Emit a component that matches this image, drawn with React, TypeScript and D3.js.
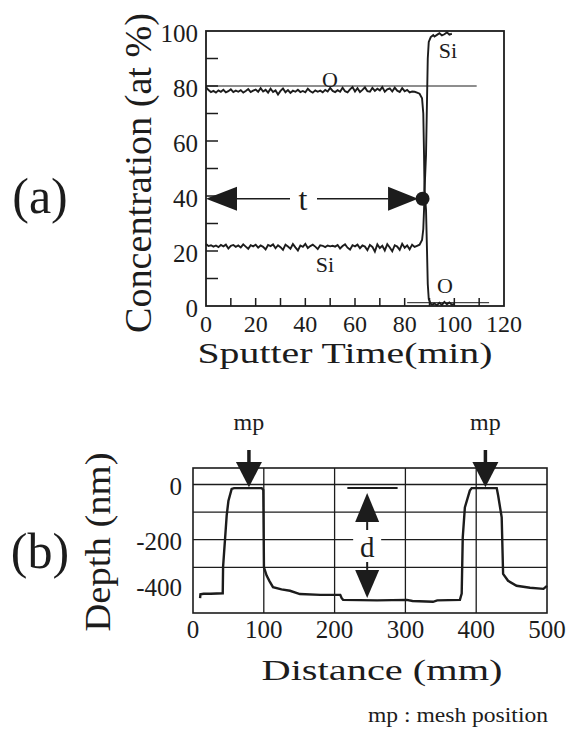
import React, { useEffect, useRef } from 'react'
import * as d3 from 'd3'

// (a) XPS sputter profile, every minute, then the interface
const oxygenTime = [
  0, 1, 2, 3, 4, 5, 6, 7, 8, 9, 10, 11, 12, 13, 14, 15, 16, 17, 18, 19,
  20, 21, 22, 23, 24, 25, 26, 27, 28, 29, 30, 31, 32, 33, 34, 35, 36, 37, 38, 39,
  40, 41, 42, 43, 44, 45, 46, 47, 48, 49, 50, 51, 52, 53, 54, 55, 56, 57, 58, 59,
  60, 61, 62, 63, 64, 65, 66, 67, 68, 69, 70, 71, 72, 73, 74, 75, 76, 77, 78, 79,
  80, 81, 82, 83, 84, 85, 86, 87, 87.5, 87.8, 88, 88.6, 89, 89.3, 89.7, 90.5,
  91, 92, 93, 94, 95, 96, 97, 98, 99, 100
]
const oxygenPct = [
  79.6, 78.5, 77.8, 78.2, 77.6, 78.4, 77.9, 78.6, 77.7, 78.1, 78.8, 77.8, 78.3, 77.9, 78.5, 77.6, 78.2, 78.9, 77.8, 78.3,
  78.7, 77.9, 79.2, 78.0, 78.6, 77.6, 79.0, 77.8, 78.4, 76.9, 78.2, 79.1, 77.7, 78.5, 77.5, 78.3, 77.9, 78.6, 77.8, 78.2,
  77.7, 79.0, 78.1, 77.6, 78.4, 77.9, 78.3, 77.7, 78.6, 78.0, 79.3, 78.2, 77.8, 78.5, 77.9, 79.4, 78.1, 77.7, 78.8, 79.6,
  78.0, 79.2, 77.8, 78.6, 79.5, 78.1, 77.9, 79.3, 78.2, 79.0, 78.4, 79.6, 77.9, 78.8, 79.1, 78.0, 79.4, 78.3, 77.8, 79.2,
  78.1, 78.6, 77.7, 78.0, 77.9, 77.6, 77.2, 75.5, 70, 55, 42, 35, 20, 8, 2.5, 0.8,
  0.5, 0.9, 0.3, 1.2, 0.4, 1.5, 0.6, 1.3, 0.5, 0.8
]
const siliconTime = [
  0, 1, 2, 3, 4, 5, 6, 7, 8, 9, 10, 11, 12, 13, 14, 15, 16, 17, 18, 19,
  20, 21, 22, 23, 24, 25, 26, 27, 28, 29, 30, 31, 32, 33, 34, 35, 36, 37, 38, 39,
  40, 41, 42, 43, 44, 45, 46, 47, 48, 49, 50, 51, 52, 53, 54, 55, 56, 57, 58, 59,
  60, 61, 62, 63, 64, 65, 66, 67, 68, 69, 70, 71, 72, 73, 74, 75, 76, 77, 78, 79,
  80, 81, 82, 83, 84, 85, 86, 87, 87.5, 87.8, 88, 88.6, 89, 89.3, 89.7, 90.5,
  91.5, 92, 93, 94, 95, 96, 97, 98, 99
]
const siliconPct = [
  22.5, 21.8, 22.1, 21.6, 22.0, 21.4, 22.2, 21.7, 22.3, 20.9, 21.9, 22.2, 21.5, 22.0, 21.3, 22.4, 21.6, 20.8, 22.1, 21.7,
  22.3, 21.2, 22.0, 21.5, 20.6, 22.2, 21.8, 22.4, 21.0, 22.1, 21.4, 20.4, 22.3, 21.6, 20.8, 22.5, 21.3, 20.2, 22.0, 21.5,
  22.6, 21.1, 21.8, 22.3, 21.6, 20.7, 22.1, 21.9, 21.4, 22.0, 21.7, 21.9, 21.6, 22.2, 20.9, 21.8, 22.4, 21.2, 20.5, 22.1,
  21.7, 22.3, 21.0, 22.0, 21.6, 20.3, 22.2, 21.5, 19.8, 22.4, 21.1, 21.9, 20.2, 22.5, 21.3, 19.9, 22.1, 21.6, 20.4, 22.6,
  21.2, 22.0, 20.6, 22.3, 21.5, 21.9, 22.3, 24, 28, 35, 42, 55, 75, 90, 96, 97.8,
  98.5, 98.0, 98.6, 99.2, 98.4, 98.8, 99.5, 98.7, 99.0
]
const timeTicks = [0, 20, 40, 60, 80, 100, 120]
const concTicks = [0, 20, 40, 60, 80, 100]

// (b) stylus profile across the mesh
const distance = [
  10, 10.5, 15, 25, 42, 42.5, 47.6, 50, 54.6, 58, 97, 99.3, 100.2, 104, 108, 113, 125, 137, 151, 180,
  208, 210, 212, 260, 302, 310, 339, 345, 377, 379.5, 381, 384, 391, 393.6, 429, 431, 436, 438, 445, 457,
  476, 495, 500
]
const depth = [
  -412, -398, -396, -396, -394, -298, -112, -60, -16, -13, -13, -20, -300, -330, -350, -372, -380, -385, -397, -400,
  -400, -412, -418, -420, -418, -422, -425, -420, -418, -395, -192, -83, -22, -13, -13, -40, -119, -324, -349, -367,
  -374, -378, -367
]
const distanceTicks = [0, 100, 200, 300, 400, 500]
const depthTicks = [0, -200, -400]
const depthGrid = [0, -100, -200, -300]
const meshPositions = [79, 413]

function App() {
  const svgRef = useRef<SVGSVGElement>(null)

  useEffect(() => {
    const svg = d3.select(svgRef.current)
    svg.selectAll('*').remove()
    const ink = '#1c1c1c'

    // ---------- (a) ----------
    const xA = d3.scaleLinear().domain([0, 120]).range([206, 504])
    const yA = d3.scaleLinear().domain([0, 100]).range([306, 31])

    svg.append('rect')
      .attr('x', xA(0)).attr('y', yA(100))
      .attr('width', xA(120) - xA(0)).attr('height', yA(0) - yA(100))
      .attr('fill', 'none').attr('stroke', ink).attr('stroke-width', 1.8)

    svg.append('g').selectAll('line')
      .data(xA.ticks(12).filter(d => d > 0 && d < 120))
      .join('line')
      .attr('x1', d => xA(d)).attr('x2', d => xA(d))
      .attr('y1', yA(0)).attr('y2', yA(0) - 8)
      .attr('stroke', ink).attr('stroke-width', 1.5)

    svg.append('g').selectAll('line')
      .data(yA.ticks(10).filter(d => d > 0 && d < 100))
      .join('line')
      .attr('x1', xA(0)).attr('x2', xA(0) + 12)
      .attr('y1', d => yA(d)).attr('y2', d => yA(d))
      .attr('stroke', ink).attr('stroke-width', 1.5)

    svg.append('g').selectAll('text')
      .data(timeTicks)
      .join('text')
      .attr('x', d => xA(d)).attr('y', 332)
      .attr('text-anchor', 'middle').attr('font-size', 24).attr('fill', ink)
      .text(d => d)

    svg.append('g').selectAll('text')
      .data(concTicks)
      .join('text')
      .attr('x', 198).attr('y', d => yA(d) + 11)
      .attr('text-anchor', 'end').attr('font-size', 25).attr('fill', ink)
      .text(d => d)

    // thin reference lines
    svg.append('line')
      .attr('x1', xA(0)).attr('x2', xA(109)).attr('y1', yA(80)).attr('y2', yA(80))
      .attr('stroke', ink).attr('stroke-width', 1)
    svg.append('line')
      .attr('x1', xA(81)).attr('x2', xA(114)).attr('y1', yA(1.2)).attr('y2', yA(1.2))
      .attr('stroke', ink).attr('stroke-width', 1)

    const lineA = d3.line<[number, number]>().x(d => xA(d[0])).y(d => yA(d[1]))
    svg.append('path')
      .attr('d', lineA(oxygenTime.map((t, i) => [t, oxygenPct[i]])))
      .attr('fill', 'none').attr('stroke', ink).attr('stroke-width', 1.9)
    svg.append('path')
      .attr('d', lineA(siliconTime.map((t, i) => [t, siliconPct[i]])))
      .attr('fill', 'none').attr('stroke', ink).attr('stroke-width', 1.9)

    // t arrow
    const ty = yA(39)
    const tL = xA(0), tR = xA(85.4)
    svg.append('polygon')
      .attr('points', `${tL},${ty} ${tL + 31},${ty - 12} ${tL + 31},${ty + 12}`)
      .attr('fill', ink)
    svg.append('polygon')
      .attr('points', `${tR},${ty} ${tR - 30},${ty - 12} ${tR - 30},${ty + 12}`)
      .attr('fill', ink)
    svg.append('line').attr('x1', tL + 31).attr('x2', 290).attr('y1', ty).attr('y2', ty)
      .attr('stroke', ink).attr('stroke-width', 1.5)
    svg.append('line').attr('x1', 317).attr('x2', tR - 30).attr('y1', ty).attr('y2', ty)
      .attr('stroke', ink).attr('stroke-width', 1.5)
    svg.append('circle').attr('cx', xA(87.2)).attr('cy', ty).attr('r', 7).attr('fill', ink)
    svg.append('text').attr('x', 303).attr('y', ty + 11)
      .attr('text-anchor', 'middle').attr('font-size', 32).attr('fill', ink).text('t')

    const labelsA = [
      { t: 'O', x: 330, y: 87 },
      { t: 'Si', x: 448, y: 58 },
      { t: 'Si', x: 325, y: 272 },
      { t: 'O', x: 445, y: 293 },
    ]
    svg.append('g').selectAll('text')
      .data(labelsA)
      .join('text')
      .attr('x', d => d.x).attr('y', d => d.y)
      .attr('text-anchor', 'middle').attr('font-size', 22).attr('fill', ink)
      .text(d => d.t)

    svg.append('text').attr('x', 40).attr('y', 213)
      .attr('text-anchor', 'middle').attr('font-size', 50).attr('fill', ink).text('(a)')
    svg.append('text')
      .attr('transform', 'translate(151,173) rotate(-90)')
      .attr('text-anchor', 'middle').attr('font-size', 38).attr('fill', ink)
      .attr('textLength', 320).attr('lengthAdjust', 'spacingAndGlyphs')
      .text('Concentration (at %)')
    svg.append('text').attr('x', 345).attr('y', 363)
      .attr('text-anchor', 'middle').attr('font-size', 30).attr('fill', ink)
      .attr('textLength', 295).attr('lengthAdjust', 'spacingAndGlyphs')
      .text('Sputter Time(min)')

    // ---------- (b) ----------
    const xB = d3.scaleLinear().domain([0, 500]).range([193, 547])
    const yB = d3.scaleLinear().domain([0, -100]).range([484.5, 512.1])
    const top = 468, bottom = 613

    svg.append('g').selectAll('line')
      .data(depthGrid)
      .join('line')
      .attr('x1', xB(0)).attr('x2', xB(500))
      .attr('y1', d => yB(d)).attr('y2', d => yB(d))
      .attr('stroke', ink).attr('stroke-width', 1.3)
    svg.append('g').selectAll('line')
      .data(distanceTicks.filter(d => d > 0 && d < 500))
      .join('line')
      .attr('x1', d => xB(d)).attr('x2', d => xB(d))
      .attr('y1', top).attr('y2', bottom)
      .attr('stroke', ink).attr('stroke-width', 1.3)
    svg.append('rect')
      .attr('x', xB(0)).attr('y', top)
      .attr('width', xB(500) - xB(0)).attr('height', bottom - top)
      .attr('fill', 'none').attr('stroke', ink).attr('stroke-width', 1.6)

    svg.append('g').selectAll('text')
      .data(distanceTicks)
      .join('text')
      .attr('x', d => xB(d)).attr('y', 638)
      .attr('text-anchor', 'middle').attr('font-size', 25).attr('fill', ink)
      .text(d => d)
    // the -400 label sits a little above its level in the original
    svg.append('g').selectAll('text')
      .data(depthTicks)
      .join('text')
      .attr('x', 182).attr('y', d => yB(d) + (d === -400 ? 1 : 10))
      .attr('text-anchor', 'end').attr('font-size', 25).attr('fill', ink)
      .text(d => d)

    // d marker (white gap on the -200 gridline behind the label)
    const dx = xB(246)
    svg.append('rect').attr('x', dx - 14).attr('y', 528).attr('width', 28).attr('height', 34)
      .attr('fill', '#fff')
    svg.append('line').attr('x1', xB(218)).attr('x2', xB(289)).attr('y1', yB(-13)).attr('y2', yB(-13))
      .attr('stroke', ink).attr('stroke-width', 2)
    const upTip = yB(-31), downTip = yB(-411)
    svg.append('polygon')
      .attr('points', `${dx},${upTip} ${dx - 12},${upTip + 29} ${dx + 12},${upTip + 29}`)
      .attr('fill', ink)
    svg.append('polygon')
      .attr('points', `${dx},${downTip} ${dx - 12},${downTip - 28} ${dx + 12},${downTip - 28}`)
      .attr('fill', ink)
    svg.append('line').attr('x1', dx).attr('x2', dx).attr('y1', upTip + 29).attr('y2', 530)
      .attr('stroke', ink).attr('stroke-width', 2)
    svg.append('line').attr('x1', dx).attr('x2', dx).attr('y1', 562).attr('y2', downTip - 28)
      .attr('stroke', ink).attr('stroke-width', 2)
    svg.append('text').attr('x', dx).attr('y', 557)
      .attr('text-anchor', 'middle').attr('font-size', 29).attr('fill', ink).text('d')

    const lineB = d3.line<[number, number]>().x(d => xB(d[0])).y(d => yB(d[1]))
    svg.append('path')
      .attr('d', lineB(distance.map((x, i) => [x, depth[i]])))
      .attr('fill', 'none').attr('stroke', ink).attr('stroke-width', 2.4)

    // mesh position arrows
    const mp = svg.append('g').selectAll('g').data(meshPositions).join('g')
    mp.append('line')
      .attr('x1', d => xB(d)).attr('x2', d => xB(d)).attr('y1', 450).attr('y2', 464)
      .attr('stroke', ink).attr('stroke-width', 3.5)
    mp.append('polygon')
      .attr('points', d => `${xB(d)},${yB(-10)} ${xB(d) - 13},462 ${xB(d) + 13},462`)
      .attr('fill', ink)
    mp.append('text')
      .attr('x', d => xB(d)).attr('y', 430)
      .attr('text-anchor', 'middle').attr('font-size', 24).attr('fill', ink)
      .text('mp')

    svg.append('text').attr('x', 40).attr('y', 568)
      .attr('text-anchor', 'middle').attr('font-size', 50).attr('fill', ink).text('(b)')
    svg.append('text')
      .attr('transform', 'translate(110,542) rotate(-90)')
      .attr('text-anchor', 'middle').attr('font-size', 36).attr('fill', ink)
      .attr('textLength', 179).attr('lengthAdjust', 'spacingAndGlyphs')
      .text('Depth  (nm)')
    svg.append('text').attr('x', 382).attr('y', 680)
      .attr('text-anchor', 'middle').attr('font-size', 30).attr('fill', ink)
      .attr('textLength', 241).attr('lengthAdjust', 'spacingAndGlyphs')
      .text('Distance  (mm)')
    svg.append('text').attr('x', 458).attr('y', 722)
      .attr('text-anchor', 'middle').attr('font-size', 20).attr('fill', ink)
      .attr('textLength', 180).attr('lengthAdjust', 'spacingAndGlyphs')
      .text('mp : mesh position')
  }, [])

  return (
    <svg ref={svgRef} width={568} height={729}
      style={{
        position: 'absolute', left: 0, top: 0, background: '#fff',
        fontFamily: "'Liberation Serif', 'DejaVu Serif', serif",
      }} />
  )
}

export default App
